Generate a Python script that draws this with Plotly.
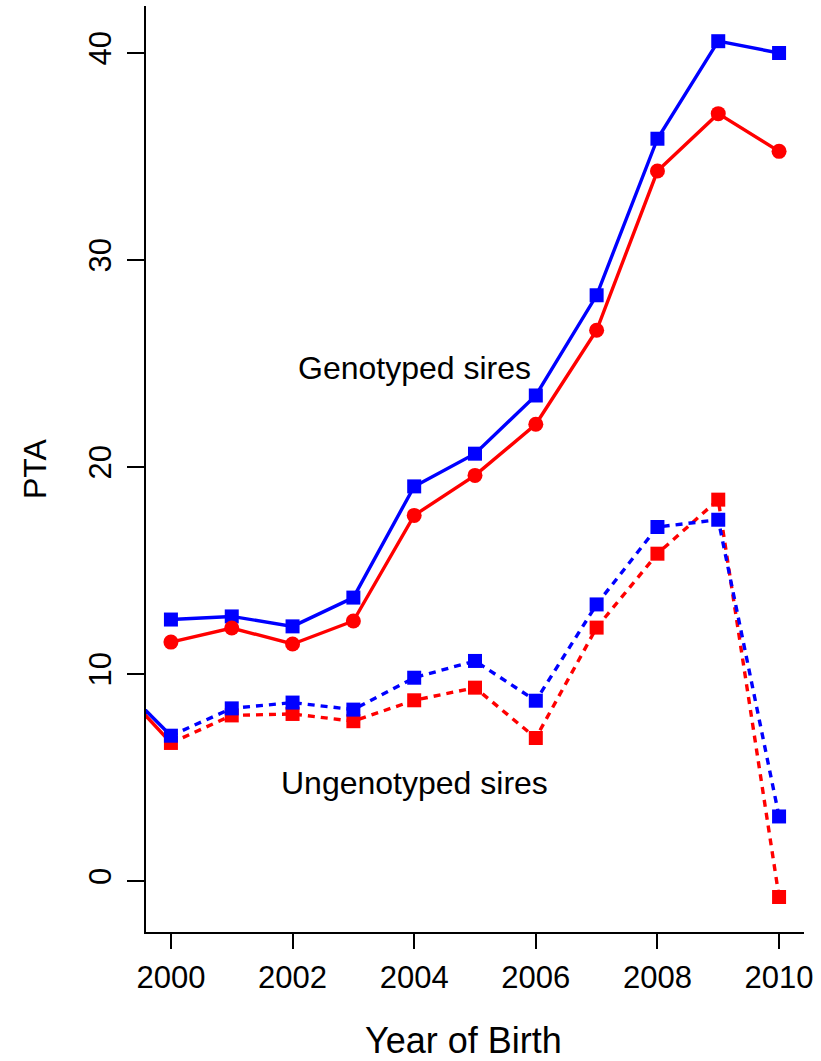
import plotly.graph_objects as go

# Year of birth and mean PTA per group
years = [2000, 2001, 2002, 2003, 2004, 2005, 2006, 2007, 2008, 2009, 2010]
geno_blue = [12.63, 12.78, 12.30, 13.69, 19.06, 20.64, 23.45, 28.29, 35.85, 40.56, 39.99]
geno_red = [11.54, 12.22, 11.45, 12.56, 17.66, 19.59, 22.06, 26.60, 34.29, 37.06, 35.24]
ungeno_blue = [7.02, 8.34, 8.62, 8.28, 9.82, 10.63, 8.71, 13.36, 17.10, 17.45, 3.12]
ungeno_red = [6.67, 8.00, 8.07, 7.72, 8.73, 9.34, 6.91, 12.24, 15.81, 18.42, -0.77]

# Earlier year of the ungenotyped series (falls just outside the x range)
prior_year = [1999, 2000]
prior_blue = [9.96, ungeno_blue[0]]
prior_red = [9.86, ungeno_red[0]]

x_ticks = [2000, 2002, 2004, 2006, 2008, 2010]
y_ticks = [0, 10, 20, 30, 40]

BLUE = "#0000FF"
RED = "#FF0000"
FONT = "Liberation Sans, Arial, sans-serif"
DOT = "7px,6px"
LW = 3.4

fig = go.Figure()

fig.add_trace(go.Scatter(x=prior_year, y=prior_red, mode="lines",
                         line=dict(color=RED, width=LW)))
fig.add_trace(go.Scatter(x=prior_year, y=prior_blue, mode="lines",
                         line=dict(color=BLUE, width=LW)))

fig.add_trace(go.Scatter(x=years, y=ungeno_red, mode="lines+markers",
                         line=dict(color=RED, width=LW, dash=DOT),
                         marker=dict(symbol="square", size=14, color=RED)))
fig.add_trace(go.Scatter(x=years, y=ungeno_blue, mode="lines+markers",
                         line=dict(color=BLUE, width=LW, dash=DOT),
                         marker=dict(symbol="square", size=14, color=BLUE)))

fig.add_trace(go.Scatter(x=years, y=geno_blue, mode="lines+markers",
                         line=dict(color=BLUE, width=LW),
                         marker=dict(symbol="square", size=14, color=BLUE)))
fig.add_trace(go.Scatter(x=years, y=geno_red, mode="lines+markers",
                         line=dict(color=RED, width=LW),
                         marker=dict(symbol="circle", size=15, color=RED)))

fig.add_annotation(x=2004.0, y=24.8, text="Genotyped sires", showarrow=False,
                   font=dict(size=32, color="black", family=FONT))
fig.add_annotation(x=2004.0, y=4.72, text="Ungenotyped sires", showarrow=False,
                   font=dict(size=32, color="black", family=FONT))

# Axis titles
fig.add_annotation(xref="paper", yref="paper", x=0.5, y=0, yshift=-108, xshift=-12,
                   xanchor="center", yanchor="middle",
                   text="Year of Birth", showarrow=False,
                   font=dict(size=36, color="black", family=FONT))
fig.add_annotation(xref="paper", yref="paper", x=0, y=0.5, xshift=-111,
                   xanchor="center", yanchor="middle",
                   text="PTA", textangle=-90, showarrow=False,
                   font=dict(size=32, color="black", family=FONT))

fig.update_layout(
    width=821, height=1061,
    margin=dict(l=146, r=17, t=6, b=129),
    plot_bgcolor="white", paper_bgcolor="white",
    showlegend=False,
    font=dict(family=FONT, size=31, color="black"),
)
fig.update_xaxes(range=[1999.59, 2010.41], tickvals=x_ticks,
                 ticktext=[str(v) for v in x_ticks],
                 showgrid=False, zeroline=False,
                 showline=True, linecolor="black", linewidth=2,
                 ticks="outside", ticklen=15, tickwidth=2, tickcolor="black",
                 ticklabelstandoff=2,
                 tickfont=dict(size=31, family=FONT, color="black"))
fig.update_yaxes(range=[-2.46, 42.26], tickvals=y_ticks,
                 ticktext=[str(v) for v in y_ticks],
                 showgrid=False, zeroline=False,
                 showline=True, linecolor="black", linewidth=2,
                 ticks="outside", ticklen=17, tickwidth=2, tickcolor="black",
                 tickangle=-90, ticklabelstandoff=4,
                 tickfont=dict(size=31, family=FONT, color="black"))

fig.write_html("out.html")
